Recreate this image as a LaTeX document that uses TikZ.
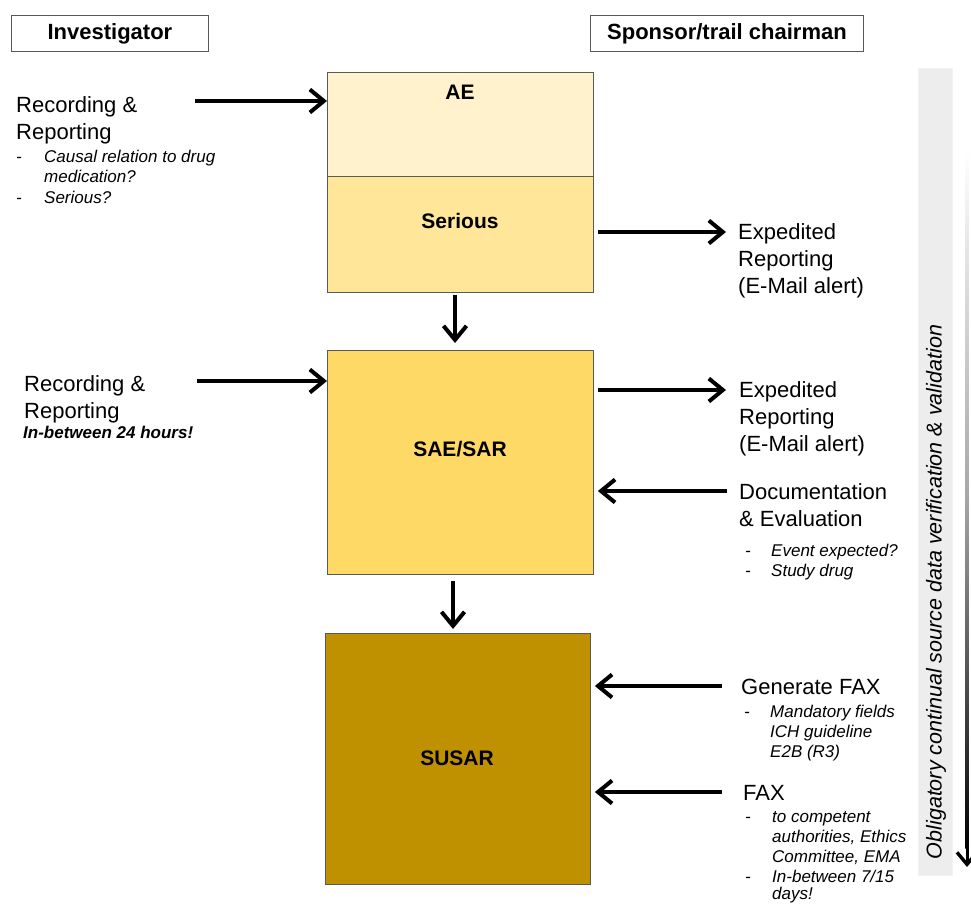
\documentclass[tikz,border=0pt]{standalone}
\usepackage{fontspec}
\setmainfont{Liberation Sans}
\usetikzlibrary{arrows.meta}
\definecolor{aecol}{HTML}{FFF2CC}
\definecolor{sercol}{HTML}{FFE699}
\definecolor{saecol}{HTML}{FFD966}
\definecolor{susarcol}{HTML}{BF9000}
\definecolor{edgecol}{HTML}{595959}
\definecolor{barcol}{HTML}{EDEDED}
\tikzset{
  box/.style={draw=edgecol, line width=0.9pt, anchor=north west, inner sep=0},
  hdr/.style={draw=edgecol, line width=0.9pt, anchor=north west, inner sep=0, fill=white,
              font=\fontsize{22}{26}\selectfont\bfseries},
  blab/.style={inner sep=0, font=\fontsize{21}{25}\selectfont\bfseries},
  tx/.style={anchor=base west, inner sep=0, font=\fontsize{22}{27}\selectfont},
  it/.style={anchor=base west, inner sep=0, font=\fontsize{17}{20}\selectfont\itshape},
  bit/.style={anchor=base west, inner sep=0, font=\fontsize{17}{20}\selectfont\bfseries\itshape},
  arr/.style={line width=3.6pt, -{Straight Barb[length=14pt,width=23pt,line width=4pt]}},
}
\begin{document}
\begin{tikzpicture}[x=1pt,y=-1pt]
\useasboundingbox (0,0) rectangle (971,905);

% headers
\node[hdr, minimum width=197pt, minimum height=36pt] (inv) at (11,15) {Investigator};
\node[hdr, minimum width=273pt, minimum height=36pt] (spon) at (590,15) {Sponsor/trail chairman};

% grey bar with rotated text
\node[fill=barcol, draw=white!95!black, line width=0.6pt, anchor=north west, inner sep=0,
      minimum width=34pt, minimum height=807pt] (bar) at (918,68) {};
\node[rotate=90, inner sep=0, font=\fontsize{21.5}{24}\selectfont\itshape] (vtext) at (936,592)
  {Obligatory continual source data verification \& validation};

% gradient arrow on the right
\coordinate (gtop) at (967,150);
\coordinate (gmid) at (967,848);
\coordinate (gtip) at (967,867);
\shade[top color=white, bottom color=black, middle color=gray!70] ([xshift=-1.6pt]gtop) rectangle ([xshift=1.6pt]gmid);
\draw[line width=3pt, -{Straight Barb[length=12pt,width=20pt,line width=3.4pt]}] (gmid) -- (gtip);

% boxes
\node[box, fill=aecol, minimum width=266pt, minimum height=104pt] (ae) at (327,72) {};
\node[box, fill=sercol, minimum width=266pt, minimum height=116pt] (ser) at (327,176) {};
\node[box, fill=saecol, minimum width=266pt, minimum height=224pt] (sae) at (327,350) {};
\node[box, fill=susarcol, minimum width=265pt, minimum height=251pt] (susar) at (325,633) {};

\node[blab] (aelab) at (460,92) {AE};
\node[blab] (serlab) at (460,221) {Serious};
\node[blab] (saelab) at (460,449) {SAE/SAR};
\node[blab] (susarlab) at (457,758) {SUSAR};

% vertical arrows
\coordinate (d1s) at (455,295);
\draw[arr, shorten >=7pt] (d1s) -- (d1s |- sae.north);
\coordinate (d2s) at (453,581);
\draw[arr, shorten >=4pt] (d2s) -- (d2s |- susar.north);

% left texts, block 1
\node[tx] (rec1a) at (16,112) {Recording \&};
\node[tx] (rec1b) at (16,139) {Reporting};
\node[it] (rec1d1) at (16,162) {-};
\node[it] (rec1c) at (44,162) {Causal relation to drug};
\node[it] (rec1e) at (44,182) {medication?};
\node[it] (rec1d2) at (16,203) {-};
\node[it] (rec1f) at (44,203) {Serious?};
\coordinate (a1s) at (195,101);
\draw[arr] (a1s) -- (a1s -| ae.west);

% left texts, block 2
\node[tx] (rec2a) at (24,391) {Recording \&};
\node[tx] (rec2b) at (24,418) {Reporting};
\node[bit] (rec2c) at (23,438) {In-between 24 hours!};
\coordinate (a2s) at (197,381);
\draw[arr] (a2s) -- (a2s -| sae.west);

% right: expedited 1
\node[tx] (exp1a) at (738,239) {Expedited};
\node[tx] (exp1b) at (738,266) {Reporting};
\node[tx] (exp1c) at (738,293) {(E-Mail alert)};
\coordinate (a3e) at (726,232);
\draw[arr] ([xshift=4pt]a3e -| ser.east) -- (a3e);

% right: expedited 2
\node[tx] (exp2a) at (739,397) {Expedited};
\node[tx] (exp2b) at (739,424) {Reporting};
\node[tx] (exp2c) at (739,451) {(E-Mail alert)};
\coordinate (a4e) at (726,390);
\draw[arr] ([xshift=4pt]a4e -| sae.east) -- (a4e);

% documentation
\node[tx] (doc1) at (739,499) {Documentation};
\node[tx] (doc2) at (739,526) {\& Evaluation};
\node[it] (docd1) at (745,556) {-};
\node[it] (doc3) at (771,556) {Event expected?};
\node[it] (docd2) at (745,576) {-};
\node[it] (doc4) at (771,576) {Study drug};
\coordinate (a5s) at (727,491);
\draw[arr] (a5s) -- ([xshift=4pt]a5s -| sae.east);

% generate fax
\node[tx] (gen1) at (741,694) {Generate FAX};
\node[it] (gend) at (744,717) {-};
\node[it] (gen2) at (770,717) {Mandatory fields};
\node[it] (gen3) at (770,737) {ICH guideline};
\node[it] (gen4) at (770,757) {E2B (R3)};
\coordinate (a6s) at (722,686);
\draw[arr] (a6s) -- ([xshift=4pt]a6s -| susar.east);

% fax
\node[tx] (fax1) at (743,800) {FAX};
\node[it] (faxd1) at (745,822) {-};
\node[it] (fax2) at (772,822) {to competent};
\node[it] (fax3) at (772,842) {authorities, Ethics};
\node[it] (fax4) at (772,862) {Committee, EMA};
\node[it] (faxd2) at (745,882) {-};
\node[it] (fax5) at (772,882) {In-between 7/15};
\node[it] (fax6) at (772,899) {days!};
\coordinate (a7s) at (722,792);
\draw[arr] (a7s) -- ([xshift=4pt]a7s -| susar.east);
\end{tikzpicture}
\end{document}
